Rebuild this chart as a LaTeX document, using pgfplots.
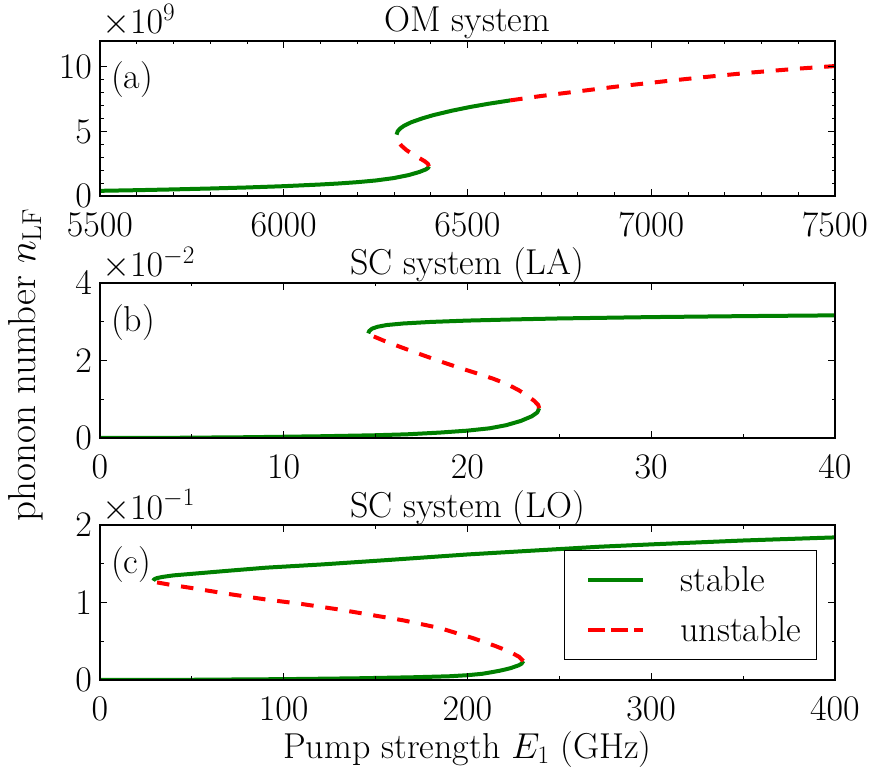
\RequirePackage{fix-cm}
\documentclass[border=0pt]{standalone}
\usepackage{pgfplots}
\pgfplotsset{compat=1.18}
\definecolor{mplgreen}{RGB}{0,128,0}
\definecolor{mplred}{RGB}{255,0,0}
\newcommand{\bigf}{\fontsize{36bp}{43bp}\selectfont}
\newcommand{\labf}{\fontsize{39bp}{46bp}\selectfont}
\pgfplotsset{
  panel/.style={
    scale only axis, width=735bp, height=155bp, anchor=south west,
    axis on top, clip=true,
    font=\bigf,
    tick align=inside, xtick pos=both, ytick pos=both,
    major tick length=7bp, minor tick length=3.5bp,
    every tick/.style={black, line width=1bp},
    axis line style={line width=2bp},
    scaled ticks=false,
    /pgf/number format/1000 sep={},
    xticklabel style={font=\bigf, inner sep=0pt, anchor=north, yshift=-17bp},
    yticklabel style={font=\bigf, inner sep=0pt, anchor=east, xshift=-8bp},
  },
  stab/.style={mplgreen, line width=4bp, line join=round},
  unst/.style={mplred, line width=4bp, dash pattern=on 12.5bp off 11.8bp},
}
\begin{document}
\begin{tikzpicture}
\path[use as bounding box] (0,0) rectangle (875bp,776bp);
% ---------------- (a)
\begin{axis}[panel, at={(100bp,580bp)},
  xmin=5500, xmax=7500, ymin=0, ymax=12,
  xtick={5500,6000,6500,7000,7500}, minor x tick num=4,
  ytick={0,5,10}, minor y tick num=4,
  extra description/.code={
    \node[anchor=base, inner sep=0pt] at ([yshift=9bp]axis description cs:0.5,1) {OM system};
    \node[anchor=base west, inner sep=0pt] at ([xshift=2bp,yshift=7bp]axis description cs:0,1) {$\times10^{9}$};
    \node[anchor=north west, inner sep=0pt] at ([xshift=11bp,yshift=-20bp]axis description cs:0,1) {(a)};
  }]
\addplot[stab] coordinates {
(5500,0.40) (5600,0.45) (5700,0.51) (5800,0.58) (5900,0.66) (6000,0.76)
(6100,0.89) (6150,0.97) (6200,1.07) (6250,1.20) (6300,1.39) (6340,1.62)
(6368,1.85) (6386,2.05) (6393,2.18) (6395,2.30)};
\addplot[unst] coordinates {
(6395,2.30) (6392,2.50) (6383,2.70) (6368,2.95) (6350,3.25) (6334,3.55)
(6320,3.90) (6311,4.25) (6307,4.55) (6307,4.75)};
\addplot[stab] coordinates {
(6307,4.75) (6310,5.01) (6317,5.23) (6327,5.43) (6347,5.71) (6377,6.01)
(6407,6.26) (6457,6.60) (6507,6.89) (6557,7.14) (6616,7.40)};
\addplot[unst] coordinates {
(6616,7.40) (6700,7.74) (6815,8.15) (6900,8.45) (7042,8.90) (7150,9.22)
(7269,9.55) (7400,9.86) (7500,10.06)};
\end{axis}
% ---------------- (b)
\begin{axis}[panel, at={(100bp,338bp)},
  xmin=0, xmax=40, ymin=0, ymax=4,
  xtick={0,10,20,30,40}, minor x tick num=1,
  ytick={0,2,4}, minor y tick num=1,
  extra description/.code={
    \node[anchor=base, inner sep=0pt] at ([yshift=8bp]axis description cs:0.5,1) {SC system (LA)};
    \node[anchor=base west, inner sep=0pt] at ([xshift=2bp,yshift=6bp]axis description cs:0,1) {$\times10^{-2}$};
    \node[anchor=north west, inner sep=0pt] at ([xshift=11bp,yshift=-21bp]axis description cs:0,1) {(b)};
    \node[rotate=90, anchor=north, inner sep=0pt, font=\labf] at ([xshift=-92bp]axis description cs:0,0.471) {phonon number $n_{\mathrm{LF}}$};
  }]
\addplot[stab] coordinates {
(0,0.00) (4,0.005) (8,0.02) (12,0.045) (14.9,0.07) (16.7,0.095) (18.5,0.14)
(20,0.19) (21.2,0.25) (22.1,0.33) (22.9,0.44) (23.5,0.56) (23.8,0.66) (23.9,0.77)};
\addplot[unst] coordinates {
(23.9,0.77) (23.85,0.85) (23.65,0.95) (23.3,1.08) (22.8,1.23) (22.2,1.38)
(21.4,1.53) (20.5,1.67) (19.5,1.82) (18.5,1.98) (17.5,2.15) (16.4,2.34)
(15.5,2.50) (14.9,2.62) (14.65,2.67) (14.6,2.70)};
\addplot[stab] coordinates {
(14.6,2.70) (14.65,2.76) (14.8,2.82) (15.1,2.87) (15.6,2.915) (16.5,2.955)
(18,2.995) (20,3.03) (22.5,3.06) (25,3.085) (30,3.12) (35,3.145) (40,3.165)};
\end{axis}
% ---------------- (c)
\begin{axis}[panel, at={(100bp,96bp)},
  xmin=0, xmax=400, ymin=0, ymax=2,
  xtick={0,100,200,300,400}, minor x tick num=1,
  ytick={0,1,2}, minor y tick num=1,
  legend style={at={(0.9755,0.839)}, anchor=north east, draw=black, line width=1bp,
    font=\bigf, inner xsep=15bp, inner ysep=16bp, row sep=24bp, column sep=0pt,
    nodes={inner sep=0pt}},
  legend cell align=left,
  legend image code/.code={\path[draw=none,fill=none] (-9bp,-8bp) rectangle (92bp,8bp); \draw[#1] (0bp,0bp) -- (55bp,0bp);},
  extra description/.code={
    \node[anchor=base, inner sep=0pt] at ([yshift=8bp]axis description cs:0.5,1) {SC system (LO)};
    \node[anchor=base west, inner sep=0pt] at ([xshift=2bp,yshift=6bp]axis description cs:0,1) {$\times10^{-1}$};
    \node[anchor=north west, inner sep=0pt] at ([xshift=11bp,yshift=-21bp]axis description cs:0,1) {(c)};
    \node[anchor=base, inner sep=0pt] at ([yshift=-78bp]axis description cs:0.5,0) {Pump strength $E_1$ (GHz)};
  }]
\addlegendimage{mplgreen, line width=4bp}
\addlegendentry{stable}
\addlegendimage{mplred, line width=4bp, dash pattern=on 17bp off 6bp}
\addlegendentry{unstable}
\addplot[stab, forget plot] coordinates {
(0,0.0) (50,0.003) (100,0.011) (140,0.022) (170,0.035) (190,0.048) (200,0.062)
(208,0.08) (213,0.10) (217.6,0.12) (221.3,0.14) (223.7,0.155) (227.9,0.19)
(229.4,0.21) (230.4,0.245)};
\addplot[unst, forget plot] coordinates {
(230.4,0.245) (228,0.30) (223,0.365) (215,0.44) (203,0.54) (185,0.67)
(165,0.77) (150,0.83) (130,0.91) (110,0.98) (90,1.04) (70,1.11) (49,1.19)
(38,1.23) (30.8,1.26) (29,1.28)};
\addplot[stab, forget plot] coordinates {
(29,1.28) (29.5,1.30) (31,1.315) (34,1.33) (40,1.35) (50,1.37) (70,1.41)
(90.7,1.45) (120,1.49) (157.8,1.55) (200,1.62) (272,1.72) (300,1.75)
(350,1.80) (400,1.84)};
\end{axis}
\end{tikzpicture}
\end{document}
